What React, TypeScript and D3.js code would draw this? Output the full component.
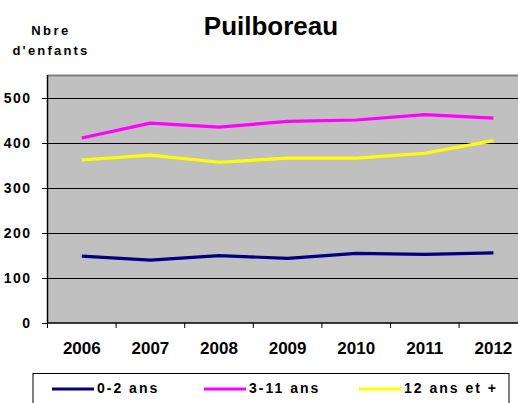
import React from "react";
import * as d3 from "d3";

const years = ["2006", "2007", "2008", "2009", "2010", "2011", "2012"];
const s02 = [149, 140, 150, 144, 155, 153, 156];
const s311 = [412, 445, 436, 449, 452, 464, 456];
const s12p = [363, 374, 358, 367, 367, 378, 406];
const yTicks = [0, 100, 200, 300, 400, 500];
const seriesNames = ["0-2 ans", "3-11 ans", "12 ans et +"];
const seriesColors = ["#000080", "#FF00FF", "#FFFF00"];

const W = 518;
const H = 403;
const FONT = "'Liberation Sans', Arial, sans-serif";

export default function App() {
  const left = 47.5;
  const right = 527.7;
  const top = 76;
  const bottom = 323;
  const x = d3.scaleBand<string>().domain(years).range([left, right]);
  const y = d3.scaleLinear().domain([0, 550]).range([bottom, top]);
  const line = d3
    .line<number>()
    .x((_, i) => (x(years[i]) as number) + x.bandwidth() / 2)
    .y((d) => y(d));
  const series = [s02, s311, s12p];
  const legendX = [52, 204, 359];

  return (
    <div style={{ position: "fixed", left: 0, top: 0 }}>
      <svg width={W} height={H} style={{ display: "block" }} fontFamily={FONT}>
        <rect x={0} y={0} width={W} height={H} fill="#fff" />
        {/* title */}
        <text x={271} y={35} textAnchor="middle" fontSize={26} fontWeight="bold">
          Puilboreau
        </text>
        <text x={51} y={35} textAnchor="middle" fontSize={13} fontWeight="bold" letterSpacing={2.5}>
          Nbre
        </text>
        <text x={51} y={55} textAnchor="middle" fontSize={13} fontWeight="bold" letterSpacing={2.2}>
          d'enfants
        </text>
        {/* plot area */}
        <rect x={left} y={top} width={W - left} height={bottom - top} fill="#C0C0C0" />
        <line x1={left} x2={W} y1={top - 0.5} y2={top - 0.5} stroke="#808080" strokeWidth={2} />
        {yTicks.map((t) => (
          <g key={t}>
            {t > 0 && (
              <line x1={left} x2={W} y1={Math.round(y(t)) + 0.5} y2={Math.round(y(t)) + 0.5} stroke="#000" strokeWidth={1} />
            )}
            <line x1={42} x2={left} y1={Math.round(y(t)) + 0.5} y2={Math.round(y(t)) + 0.5} stroke="#000" strokeWidth={1} />
            <text
              x={31.5}
              y={y(t)}
              dy="0.36em"
              textAnchor="end"
              fontSize={14}
              fontWeight="bold"
              letterSpacing={1.5}
            >
              {t}
            </text>
          </g>
        ))}
        {/* axes */}
        <line x1={left} x2={left} y1={top - 1} y2={bottom} stroke="#000" strokeWidth={1.5} />
        <line x1={left} x2={W} y1={bottom} y2={bottom} stroke="#000" strokeWidth={1.5} />
        {years.map((yr) => (
          <g key={yr}>
            <line
              x1={x(yr) as number}
              x2={x(yr) as number}
              y1={bottom}
              y2={bottom + 5}
              stroke="#000"
              strokeWidth={1}
            />
            <text
              x={(x(yr) as number) + x.bandwidth() / 2}
              y={353.5}
              textAnchor="middle"
              fontSize={17}
              fontWeight="bold"
            >
              {yr}
            </text>
          </g>
        ))}
        {/* series */}
        {series.map((s, i) => (
          <path key={i} d={line(s) as string} fill="none" stroke={seriesColors[i]} strokeWidth={3.2} strokeLinejoin="round" />
        ))}
        {/* legend */}
        <rect x={33} y={373.5} width={476} height={40} fill="#fff" stroke="#000" strokeWidth={1} />
        {seriesNames.map((n, i) => (
          <g key={n}>
            <line x1={legendX[i]} x2={legendX[i] + 42} y1={389} y2={389} stroke={seriesColors[i]} strokeWidth={3.2} />
            <text x={legendX[i] + 45} y={392.7} fontSize={14} fontWeight="bold" letterSpacing={2}>
              {n}
            </text>
          </g>
        ))}
      </svg>
    </div>
  );
}
